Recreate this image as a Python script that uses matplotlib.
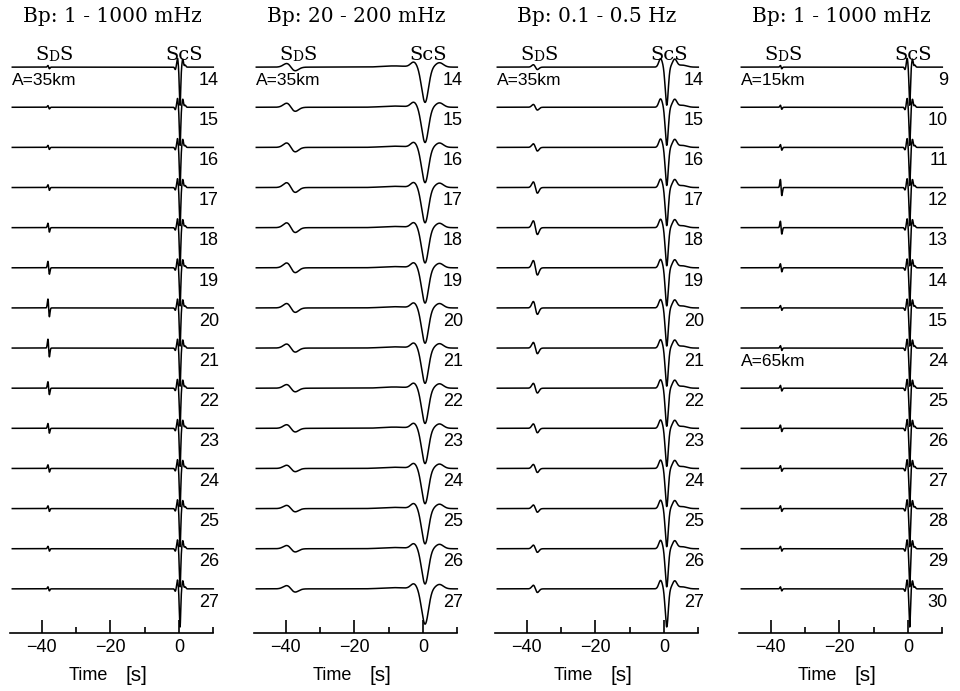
import numpy as np
import matplotlib
matplotlib.use("Agg")
import matplotlib.pyplot as plt
from matplotlib.ticker import FixedLocator, FixedFormatter

# ---------------- data ----------------
panel_titles = ["Bp: 1 - 1000 mHz", "Bp: 20 - 200 mHz", "Bp: 0.1 - 0.5 Hz", "Bp: 1 - 1000 mHz"]
panel_kinds = ["broad", "long", "mid", "broad"]

dist_p1 = [14, 15, 16, 17, 18, 19, 20, 21, 22, 23, 24, 25, 26, 27]
dist_p2 = [14, 15, 16, 17, 18, 19, 20, 21, 22, 23, 24, 25, 26, 27]
dist_p3 = [14, 15, 16, 17, 18, 19, 20, 21, 22, 23, 24, 25, 26, 27]
dist_p4 = [9, 10, 11, 12, 13, 14, 15, 24, 25, 26, 27, 28, 29, 30]

# SdS amplitude (in units of trace spacing) for each trace
sds_amp_p1 = [0.04, 0.04, 0.05, 0.07, 0.11, 0.16, 0.22, 0.22, 0.16, 0.12, 0.09, 0.07, 0.06, 0.05]
sds_amp_p2 = [0.09, 0.10, 0.11, 0.12, 0.12, 0.12, 0.11, 0.10, 0.09, 0.09, 0.08, 0.08, 0.08, 0.08]
sds_amp_p3 = [0.06, 0.07, 0.09, 0.14, 0.17, 0.18, 0.16, 0.14, 0.12, 0.11, 0.10, 0.09, 0.09, 0.09]
sds_amp_p4 = [0.04, 0.05, 0.07, 0.20, 0.16, 0.10, 0.06, 0.06, 0.07, 0.08, 0.07, 0.07, 0.06, 0.05]

scs_amp = [0.95, 0.88, 0.95, 0.95]
sds_time = [-38.0, -38.5, -37.5, -37.0]
scs_time = [0.3, 0.6, 0.8, 0.5]

model_labels_p1 = [("A=35km", 0)]
model_labels_p2 = [("A=35km", 0)]
model_labels_p3 = [("A=35km", 0)]
model_labels_p4 = [("A=15km", 0), ("A=65km", 7)]

x_major = [-40, -20, 0]
x_major_labels = ["\u221240", "\u221220", "0"]
x_minor = [-30, -10, 10]

distances = [dist_p1, dist_p2, dist_p3, dist_p4]
sds_amps = [sds_amp_p1, sds_amp_p2, sds_amp_p3, sds_amp_p4]
model_labels = [model_labels_p1, model_labels_p2, model_labels_p3, model_labels_p4]

# ---------------- wavelet shapes ----------------
def g(tau, c, w):
    return np.exp(-((tau - c) / w) ** 2)

def scs_wave(tau, A, kind):
    if kind == "broad":
        return (-A * g(tau, 0, 0.28) + 0.22 * g(tau, -0.75, 0.28) + 0.20 * g(tau, 0.8, 0.28)
                - 0.06 * g(tau, -1.4, 0.25) + 0.05 * g(tau, 1.5, 0.3))
    if kind == "long":
        return (-A * g(tau, 0, 1.4) + 0.12 * g(tau, -3.3, 1.3) + 0.11 * g(tau, 4.2, 1.6)
                + 0.03 * g(tau, -9, 5))
    return (-A * g(tau, 0, 0.62) + 0.21 * g(tau, -1.8, 0.75) + 0.19 * g(tau, 2.3, 0.9)
            + 0.05 * g(tau, 4.5, 1.8))

sds_width = {"broad": 0.3, "long": 1.8, "mid": 0.85}

def sds_wave(tau, a, kind):
    w = sds_width[kind]
    return -a * (tau / w) * np.exp(-(tau / w) ** 2) * np.sqrt(2 * np.e)

# ---------------- layout ----------------
W, H = 960, 691
fig = plt.figure(figsize=(W / 100, H / 100), dpi=100)

SERIF = ["DejaVu Serif"]
SANS = ["Liberation Sans", "DejaVu Sans"]

px_per_s = 3.43
zero_px = [179, 423, 664, 908]
xmin, xmax = -49.3, 10.05
y_axis_px, y_top_px = 633, 27
ymin, ymax = -14.1, 1.0

t = np.linspace(-48.6, 10.0, 6000)

for p in range(4):
    left = zero_px[p] + xmin * px_per_s
    width = (xmax - xmin) * px_per_s
    ax = fig.add_axes([left / W, (H - y_axis_px) / H, width / W, (y_axis_px - y_top_px) / H])
    ax.set_xlim(xmin, xmax)
    ax.set_ylim(ymin, ymax)
    for s in ["left", "right", "top"]:
        ax.spines[s].set_visible(False)
    ax.spines["bottom"].set_linewidth(1.2)
    ax.set_yticks([])
    ax.patch.set_alpha(0)
    ax.xaxis.set_major_locator(FixedLocator(x_major))
    ax.xaxis.set_major_formatter(FixedFormatter(x_major_labels))
    ax.xaxis.set_minor_locator(FixedLocator(x_minor))
    ax.tick_params(axis="x", which="major", direction="in", length=9.4, width=1.2, pad=4,
                   labelsize=13)
    ax.tick_params(axis="x", which="minor", direction="in", length=4.3, width=1.2)
    for lab in ax.get_xticklabels():
        lab.set_family(SANS)

    kind = panel_kinds[p]
    for i, d in enumerate(distances[p]):
        y0 = -i
        trace = (scs_wave(t - scs_time[p], scs_amp[p], kind)
                 + sds_wave(t - sds_time[p], sds_amps[p][i], kind))
        ax.plot(t, y0 + trace, color="black", lw=1.1, clip_on=False, solid_joinstyle="round")
        ax.text(11.6, y0 - 0.33, str(d), ha="right", va="center", fontsize=13,
                family=SANS, clip_on=False)

    for txt, idx in model_labels[p]:
        ax.text(-48.6, -idx - 0.33, txt, ha="left", va="center", fontsize=12.5, family=SANS)

    # titles
    ax.text(-19.5, 1.25, panel_titles[p], ha="center", va="center", fontsize=14.5, family=SERIF)

    # phase labels
    t1 = ax.text(-42.0, 0.17, "S", ha="left", va="baseline", fontsize=14, family=SERIF)
    t2 = ax.annotate("D", xy=(1, 0), xycoords=t1, ha="left", va="bottom", fontsize=10,
                     family=SERIF)
    ax.annotate("S", xy=(1, 0), xycoords=t2, ha="left", va="bottom", fontsize=14, family=SERIF)
    ax.text(1.5, 0.17, "ScS", ha="center", va="baseline", fontsize=14, family=SERIF)

    # axis title
    ax.text(-26.5, -15.15, "Time", ha="center", va="center", fontsize=13, family=SANS)
    ax.text(-12.5, -15.15, "[s]", ha="center", va="center", fontsize=15, family=SANS)

fig.savefig("out.png", dpi=100)
